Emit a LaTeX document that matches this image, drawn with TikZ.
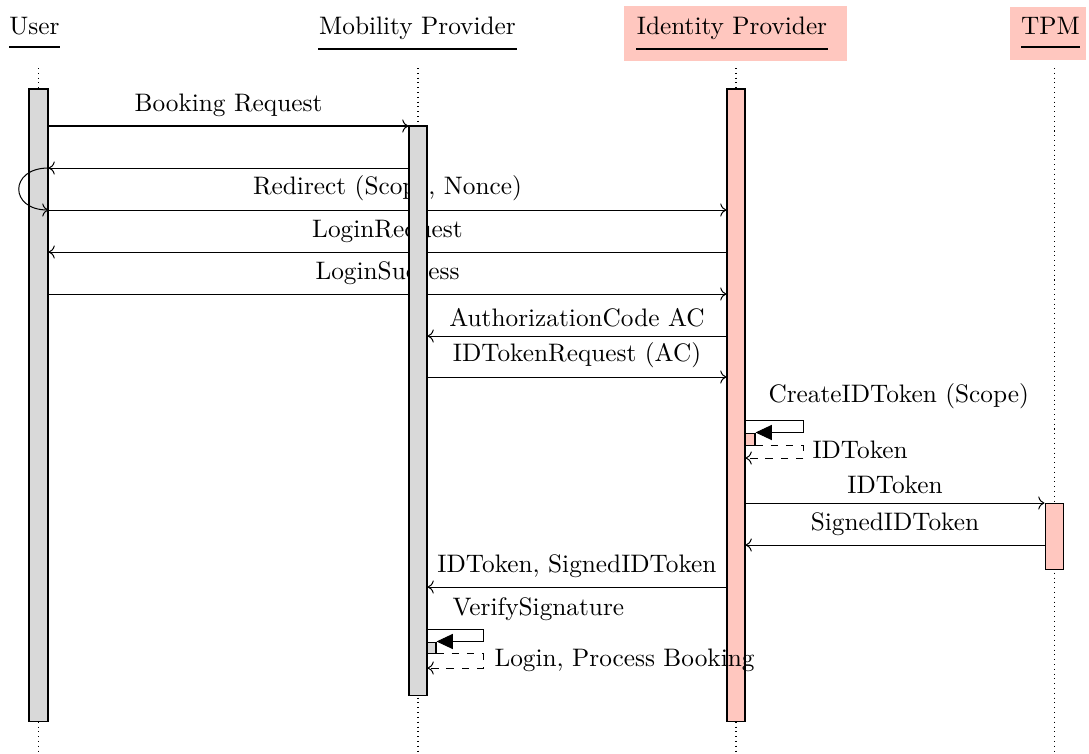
\documentclass[tikz,border=0pt]{standalone}
\usetikzlibrary{arrows.meta,fit}
\definecolor{idpink}{RGB}{255,199,191}
\definecolor{bargray}{RGB}{217,217,217}
\pgfdeclarelayer{bg}
\pgfsetlayers{bg,main}
\tikzset{
  lifeline/.style={dash pattern=on 0.4pt off 1.5pt},
  actbar/.style={draw, fill=bargray, inner sep=0pt},
  idbar/.style={draw, fill=idpink, inner sep=0pt},
  msg/.style={->},
  selfcall/.style={-{Triangle[length=6.5pt,width=6pt]}},
  reply/.style={->, dashed},
  hdr/.style={anchor=base, inner sep=0pt},
  lbl/.style={anchor=base west, inner sep=0pt},
}
\begin{document}
\begin{tikzpicture}[x=0.3953pt, y=-0.3953pt]
\useasboundingbox (0,0) rectangle (1089,754);

% participant headers
\fill[idpink] (624,6) rectangle (847,61);
\fill[idpink] (1010,7) rectangle (1086,60);
\node[hdr] (huser) at (34.5,34.5) {User};
\node[hdr] (hmp) at (417.5,34.5) {Mobility Provider};
\node[hdr] (hidp) at (732,34.5) {Identity Provider};
\node[hdr] (htpm) at (1050.5,34.5) {TPM};
\draw (9,47) -- (60,47);
\draw (318,49) -- (517,49);
\draw (636,49) -- (828,49);
\draw (1021,47) -- (1080,47);

% activation bars
\node[actbar, fit={(29,89) (48,721)}] (ubar) {};
\node[actbar, fit={(409,126) (427,695)}] (mbar) {};
\node[idbar, fit={(727,89) (745,721)}] (ibar) {};
\node[idbar, fit={(1045,503) (1063,569)}] (tbar) {};

% message levels
\coordinate (y1) at (0,126);
\coordinate (y2) at (0,168);
\coordinate (y3) at (0,210);
\coordinate (y4) at (0,252);
\coordinate (y5) at (0,294);
\coordinate (y6) at (0,336);
\coordinate (y7) at (0,377);
\coordinate (y8) at (0,420);
\coordinate (y9) at (0,458);
\coordinate (y10) at (0,503);
\coordinate (y11) at (0,545);
\coordinate (y12) at (0,587);
\coordinate (y13) at (0,629);
\coordinate (y14) at (0,668);

\begin{pgfonlayer}{bg}
  % lifelines
  \draw[lifeline] (38.5,68) -- (38.5,754);
  \draw[lifeline] (418,68) -- (418,754);
  \draw[lifeline] (736,68) -- (736,754);
  \draw[lifeline] (1054,68) -- (1054,754);

  % messages
  \draw[msg] (ubar.east |- y1) -- node[above] (l1) {Booking Request} (mbar.west |- y1);
  \draw[msg] (mbar.west |- y2) -- (ubar.east |- y2);
  \draw[msg] (ubar.east |- y3) -- node[above] (l3) {Redirect (Scope, Nonce)} (ibar.west |- y3);
  \draw[msg] (ibar.west |- y4) -- node[above] (l4) {LoginRequest} (ubar.east |- y4);
  \draw[msg] (ubar.east |- y5) -- node[above] (l5) {LoginSuccess} (ibar.west |- y5);
  \draw[msg] (ibar.west |- y6) -- node[above] (l6) {AuthorizationCode AC} (mbar.east |- y6);
  \draw[msg] (mbar.east |- y7) -- node[above] (l7) {IDTokenRequest (AC)} (ibar.west |- y7);
  \draw[msg] (ibar.east |- y10) -- node[above] (l10) {IDToken} (tbar.west |- y10);
  \draw[msg] (tbar.west |- y11) -- node[above] (l11) {SignedIDToken} (ibar.east |- y11);
  \draw[msg] (ibar.west |- y12) -- node[above] (l12) {IDToken, SignedIDToken} (mbar.east |- y12);
\end{pgfonlayer}

% redirect loop at the user
\draw[->] (ubar.east |- y2) .. controls (9,168) and (9,210) .. (ubar.east |- y3);

% self call at the identity provider
\node[idbar, fit={(745,433) (755,445)}] (ibox) {};
\draw[selfcall] (ibar.east |- y8) -- ++(58,0) |- (ibox.north east);
\draw[reply] (ibox.south east) -- ++(48,0) |- (ibar.east |- y9);
\node[lbl] (l8) at (768,402) {CreateIDToken (Scope)};
\node[lbl] (l9) at (812,458) {IDToken};

% self call at the mobility provider
\node[actbar, fit={(427,642) (436,653)}] (mbox) {};
\draw[selfcall] (mbar.east |- y13) -- ++(56,0) |- (mbox.north east);
\draw[reply] (mbox.south east) -- ++(47,0) |- (mbar.east |- y14);
\node[lbl] (l13) at (452,615) {VerifySignature};
\node[lbl] (l14) at (494,666) {Login, Process Booking};
\end{tikzpicture}
\end{document}
